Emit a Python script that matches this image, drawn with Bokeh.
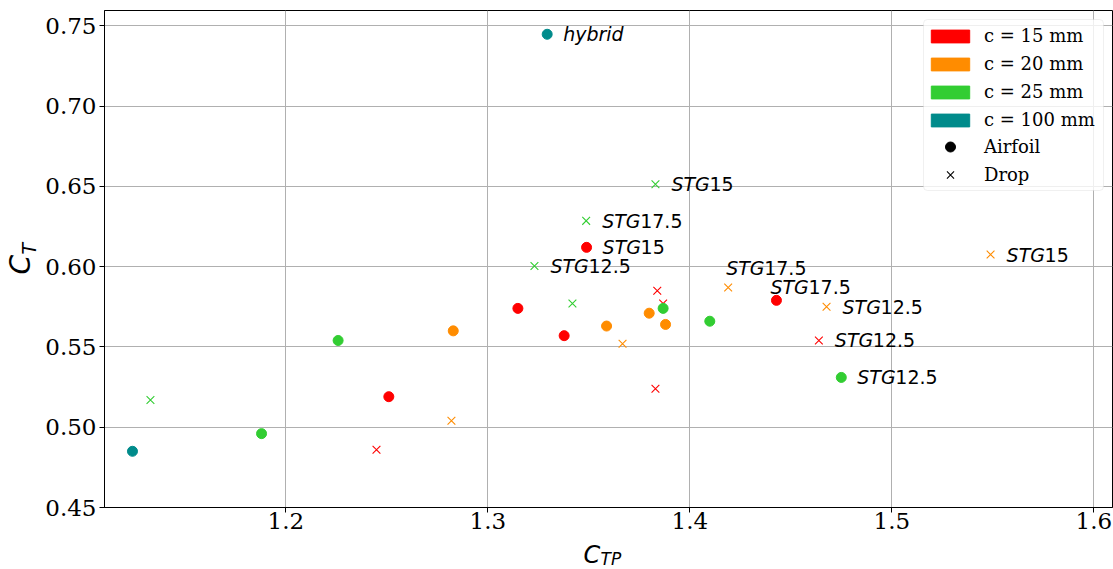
import math
from bokeh.plotting import figure
from bokeh.layouts import row, column
from bokeh.models import (Range1d, FixedTicker, NumeralTickFormatter, BoxAnnotation,
                          Legend, LegendItem, ColumnDataSource)
from bokeh.core.properties import value
from bokeh.embed import file_html
from bokeh.resources import INLINE

# ---------------- data ----------------
x_ticks = [1.2, 1.3, 1.4, 1.5, 1.6]
y_ticks = [0.45, 0.50, 0.55, 0.60, 0.65, 0.70, 0.75]

chord_names = ["c = 15 mm", "c = 20 mm", "c = 25 mm", "c = 100 mm"]
kind_names = ["Airfoil", "Drop"]

c15_airfoil_ctp = [1.251, 1.3149, 1.3378, 1.3489, 1.4429]
c15_airfoil_ct = [0.519, 0.574, 0.557, 0.612, 0.579]
c15_airfoil_lab = ["", "", "", "STG15", "STG17.5"]

c15_drop_ctp = [1.2449, 1.3839, 1.3868, 1.383, 1.4639]
c15_drop_ct = [0.486, 0.585, 0.577, 0.524, 0.554]
c15_drop_lab = ["", "", "", "", "STG12.5"]

c20_airfoil_ctp = [1.2829, 1.3588, 1.3799, 1.388]
c20_airfoil_ct = [0.560, 0.563, 0.571, 0.564]
c20_airfoil_lab = ["", "", "", ""]

c20_drop_ctp = [1.282, 1.3667, 1.419, 1.4677, 1.5489]
c20_drop_ct = [0.504, 0.552, 0.587, 0.575, 0.6075]
c20_drop_lab = ["", "", "STG17.5", "STG12.5", "STG15"]

c25_airfoil_ctp = [1.188, 1.2259, 1.3868, 1.4099, 1.475]
c25_airfoil_ct = [0.496, 0.554, 0.574, 0.566, 0.531]
c25_airfoil_lab = ["", "", "", "", "STG12.5"]

c25_drop_ctp = [1.133, 1.3231, 1.3419, 1.3487, 1.383]
c25_drop_ct = [0.517, 0.6004, 0.577, 0.6285, 0.6513]
c25_drop_lab = ["", "STG12.5", "", "STG17.5", "STG15"]

c100_airfoil_ctp = [1.1241, 1.3294]
c100_airfoil_ct = [0.485, 0.7447]
c100_airfoil_lab = ["", "hybrid"]

x_title = ("C", "TP")
y_title = ("C", "T")

# ---------------- styles ----------------
colors = ["#ff0000", "#ff8c00", "#32cd32", "#008b8b"]

series = [
    (0, "circle", c15_airfoil_ctp, c15_airfoil_ct, c15_airfoil_lab),
    (0, "x", c15_drop_ctp, c15_drop_ct, c15_drop_lab),
    (1, "circle", c20_airfoil_ctp, c20_airfoil_ct, c20_airfoil_lab),
    (1, "x", c20_drop_ctp, c20_drop_ct, c20_drop_lab),
    (2, "circle", c25_airfoil_ctp, c25_airfoil_ct, c25_airfoil_lab),
    (2, "x", c25_drop_ctp, c25_drop_ct, c25_drop_lab),
    (3, "circle", c100_airfoil_ctp, c100_airfoil_ct, c100_airfoil_lab),
]

# label offsets (screen px) for particular labels; default is to the right
special_offsets = {(0, 4): (-6, -13), (3, 2): (-2, -20)}
default_offset = (16, 0)

LABEL_FS = 19
STG_W = 38  # width of italic "STG" at LABEL_FS
TICK_FS = "23px"

LEFT_W = 42          # width of strip holding the y title
FRAME_H = 497
BL, BR, BT, BB = 62, 1, 10, 33
MAIN_W = 1113 - LEFT_W
MAIN_H = BT + FRAME_H + BB
BOTTOM_H = 569 - MAIN_H   # strip holding the x title

x0 = 1.11025
x1 = x0 + (MAIN_W - BL - BR) / 2020.0
y0, y1 = 0.45, 0.7595

p = figure(width=MAIN_W, height=MAIN_H, x_range=Range1d(x0, x1), y_range=Range1d(y0, y1),
           output_backend="svg", toolbar_location=None,
           min_border_left=BL, min_border_right=BR, min_border_top=BT, min_border_bottom=BB)

p.background_fill_color = "white"
p.border_fill_color = "white"
p.outline_line_color = "black"
p.outline_line_width = 1

for ax in (p.xaxis, p.yaxis):
    ax.axis_line_color = "black"
    ax.axis_line_width = 1
    ax.major_tick_line_color = "black"
    ax.major_tick_out = 5
    ax.major_tick_in = 0
    ax.minor_tick_out = 0
    ax.minor_tick_in = 0
    ax.major_label_text_font = "DejaVu Serif"
    ax.major_label_text_font_size = TICK_FS
    ax.major_label_text_color = "black"
p.yaxis.major_label_standoff = 3
p.xaxis.major_label_standoff = 0

p.xaxis.ticker = FixedTicker(ticks=x_ticks)
p.yaxis.ticker = FixedTicker(ticks=y_ticks)
p.xaxis.formatter = NumeralTickFormatter(format="0.0")
p.yaxis.formatter = NumeralTickFormatter(format="0.00")

p.xgrid.ticker = FixedTicker(ticks=x_ticks)
p.ygrid.ticker = FixedTicker(ticks=y_ticks)
for g in (p.xgrid, p.ygrid):
    g.grid_line_color = "#b0b0b0"
    g.grid_line_width = 1

# points and labels
for si, (ci, marker, xs, ys, labs) in enumerate(series):
    col = colors[ci]
    src = ColumnDataSource(dict(x=xs, y=ys))
    if marker == "circle":
        p.scatter("x", "y", source=src, marker="circle", size=10,
                  fill_color=col, line_color=col, line_width=1)
    else:
        p.scatter("x", "y", source=src, marker="x", size=11,
                  line_color=col, line_width=1.1)
    lx, ly, pre, num, dx, dxn, dy = [], [], [], [], [], [], []
    for i, lab in enumerate(labs):
        if not lab:
            continue
        off = special_offsets.get((si, i), default_offset)
        k = 0
        while k < len(lab) and lab[k].isalpha():
            k += 1
        lx.append(xs[i]); ly.append(ys[i])
        pre.append(lab[:k]); num.append(lab[k:])
        dx.append(off[0]); dxn.append(off[0] + STG_W); dy.append(off[1])
    if lx:
        tsrc = ColumnDataSource(dict(x=lx, y=ly, pre=pre, num=num, dx=dx, dxn=dxn, dy=dy))
        p.text("x", "y", text="pre", source=tsrc, x_offset="dx", y_offset="dy",
               text_font=value("DejaVu Sans"), text_font_style="italic",
               text_font_size=f"{LABEL_FS}px", text_baseline="middle", text_align="left",
               text_color="black")
        p.text("x", "y", text="num", source=tsrc, x_offset="dxn", y_offset="dy",
               text_font=value("DejaVu Sans"), text_font_style="normal",
               text_font_size=f"{LABEL_FS}px", text_baseline="middle", text_align="left",
               text_color="black")

# legend: outer box + two legends (colour swatches, marker kinds)
box = BoxAnnotation(left=819, right=999, bottom=317, top=488,
                    left_units="screen", right_units="screen",
                    bottom_units="screen", top_units="screen",
                    fill_color="white", fill_alpha=0.8,
                    line_color="#cccccc", line_width=1, border_radius=4)
p.add_layout(box)

nan = float("nan")
items_c = []
for name, col in zip(chord_names, colors):
    r = p.quad(left=[nan], right=[nan], bottom=[nan], top=[nan], fill_color=col, line_color=col)
    items_c.append(LegendItem(label=name, renderers=[r]))
ra = p.scatter([nan], [nan], marker="circle", size=10, fill_color="black", line_color="black")
rd = p.scatter([nan], [nan], marker="x", size=11, line_color="black", line_width=1.1)
items_k = [LegendItem(label=kind_names[0], renderers=[ra]),
           LegendItem(label=kind_names[1], renderers=[rd])]

common = dict(margin=0, padding=0, glyph_width=48, label_standoff=10, label_height=20,
              label_text_font="DejaVu Serif", label_text_font_size="18px",
              label_text_color="black", border_line_color=None,
              background_fill_alpha=0)
leg_c = Legend(items=items_c, location=(822, 377), glyph_height=16, spacing=7, **common)
leg_k = Legend(items=items_k, location=(822, 320), glyph_height=25, spacing=3, **common)
p.add_layout(leg_c)
p.add_layout(leg_k)


# strips for the axis titles (frames aligned with the main plot)
def strip(w, h, xr, yr, bl, br, bt, bb):
    f = figure(width=w, height=h, x_range=xr, y_range=yr,
               output_backend="svg", toolbar_location=None,
               x_axis_location=None, y_axis_location=None,
               min_border_left=bl, min_border_right=br,
               min_border_top=bt, min_border_bottom=bb)
    f.grid.visible = False
    f.outline_line_color = None
    f.background_fill_color = "white"
    f.border_fill_color = "white"
    return f


# y title: rotated C with subscript T, frame aligned vertically with main plot
pl = strip(LEFT_W, 569, Range1d(0, LEFT_W), p.y_range, 0, 0, BT, 569 - BT - FRAME_H)
yc = (y0 + y1) / 2
pl.text(x=[20], y=[yc], text=[y_title[0]], angle=math.pi / 2, y_offset=15.5,
        text_font=value("DejaVu Sans"), text_font_style="italic", text_font_size="28px",
        text_baseline="middle", text_align="left", text_color="black")
pl.text(x=[28], y=[yc], text=[y_title[1]], angle=math.pi / 2, y_offset=-4.5,
        text_font=value("DejaVu Sans"), text_font_style="italic", text_font_size="19px",
        text_baseline="middle", text_align="left", text_color="black")

# bottom strip: C with subscript TP, frame aligned horizontally with main plot
pb = strip(MAIN_W, BOTTOM_H, p.x_range, Range1d(0, BOTTOM_H), BL, BR, 0, 0)
xc = (x0 + x1) / 2
pb.text(x=[xc], y=[BOTTOM_H / 2], text=[x_title[0]], x_offset=-25,
        text_font=value("DejaVu Sans"), text_font_style="italic", text_font_size="24px",
        text_baseline="middle", text_align="left", text_color="black")
pb.text(x=[xc], y=[10.5], text=[x_title[1]], x_offset=-8,
        text_font=value("DejaVu Sans"), text_font_style="italic", text_font_size="17px",
        text_baseline="middle", text_align="left", text_color="black")

layout = row(pl, column(p, pb, spacing=0), spacing=0)
open("out.html", "w").write(file_html(layout, INLINE))
